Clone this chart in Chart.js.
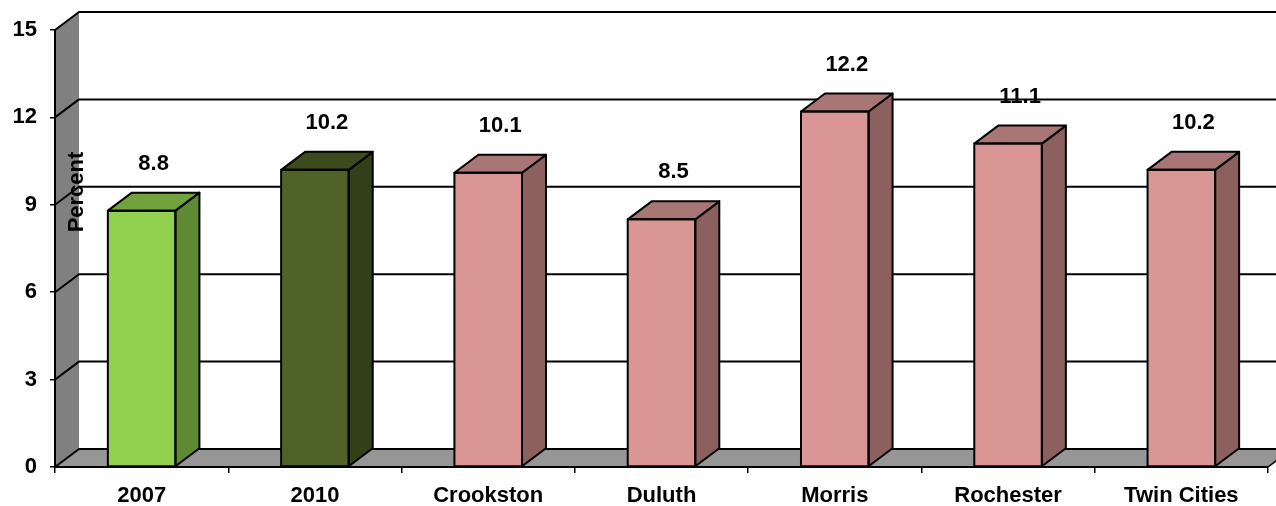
<!DOCTYPE html>
<html>
<head>
<meta charset="utf-8">
<script src="https://cdn.jsdelivr.net/npm/chart.js@4.4.1/dist/chart.umd.min.js"></script>
<style>
  html, body { margin: 0; padding: 0; background: #ffffff; }
  canvas { display: block; }
</style>
</head>
<body>
<canvas id="chart" width="1276" height="506"></canvas>
<script>
// Category names along the bottom axis
const categories = ['2007', '2010', 'Crookston', 'Duluth', 'Morris', 'Rochester', 'Twin Cities'];
// Percent value for each bar
const percentValues = [8.8, 10.2, 10.1, 8.5, 12.2, 11.1, 10.2];
// Value axis tick labels
const yTicks = [0, 3, 6, 9, 12, 15];

// Face colours of each 3D column: front, right side, top
const frontColors = ['#92D050', '#4F6228', '#D99694', '#D99694', '#D99694', '#D99694', '#D99694'];
const sideColors  = ['#5F8A34', '#323F19', '#8B605F', '#8B605F', '#8B605F', '#8B605F', '#8B605F'];
const topColors   = ['#70A23E', '#3C4B1E', '#A87675', '#A87675', '#A87675', '#A87675', '#A87675'];

// Depth of the 3D extrusion
const DX = 24, DY = -18;
const FONT = '"Liberation Sans", Arial, sans-serif';
const FONT_SIZE = 22;

function poly(ctx, pts) {
  ctx.beginPath();
  ctx.moveTo(pts[0][0], pts[0][1]);
  for (let i = 1; i < pts.length; i++) ctx.lineTo(pts[i][0], pts[i][1]);
  ctx.closePath();
}

// Walls, floor and gridlines of the 3D plot box
const wallsPlugin = {
  id: 'walls',
  beforeDraw(chart) {
    const ctx = chart.ctx;
    const { left, right, top, bottom } = chart.chartArea;
    const yScale = chart.scales.y;
    ctx.save();
    // left side wall
    ctx.fillStyle = '#808080';
    poly(ctx, [[left, top], [left + DX, top + DY], [left + DX, bottom + DY], [left, bottom]]);
    ctx.fill();
    // floor
    ctx.fillStyle = '#969696';
    poly(ctx, [[left, bottom], [left + DX, bottom + DY], [right + DX, bottom + DY], [right, bottom]]);
    ctx.fill();
    ctx.strokeStyle = '#000000';
    ctx.lineWidth = 1.5;
    ctx.beginPath();
    ctx.moveTo(right, bottom);
    ctx.lineTo(right + DX, bottom + DY);
    ctx.stroke();
    // gridlines running across side wall and back wall
    ctx.lineWidth = 2;
    ctx.lineJoin = 'round';
    yTicks.forEach(v => {
      const y = yScale.getPixelForValue(v);
      ctx.beginPath();
      ctx.moveTo(left, y);
      ctx.lineTo(left + DX, y + DY);
      ctx.lineTo(right + DX, y + DY);
      ctx.stroke();
    });
    ctx.restore();
  }
};

// Side and top faces of each column, outlines, value labels and axis title
const columnsPlugin = {
  id: 'columns3d',
  afterDatasetsDraw(chart) {
    const ctx = chart.ctx;
    const meta = chart.getDatasetMeta(0);
    ctx.save();
    ctx.lineWidth = 2;
    ctx.lineJoin = 'round';
    ctx.strokeStyle = '#000000';
    meta.data.forEach((bar, i) => {
      const { x, y, base, width } = bar.getProps(['x', 'y', 'base', 'width'], true);
      const l = x - width / 2, r = x + width / 2;
      // right side
      ctx.fillStyle = sideColors[i];
      poly(ctx, [[r, y], [r + DX, y + DY], [r + DX, base + DY], [r, base]]);
      ctx.fill(); ctx.stroke();
      // top
      ctx.fillStyle = topColors[i];
      poly(ctx, [[l, y], [l + DX, y + DY], [r + DX, y + DY], [r, y]]);
      ctx.fill(); ctx.stroke();
      // front outline
      ctx.strokeRect(l, y, width, base - y);
      // value label
      ctx.fillStyle = '#000000';
      ctx.font = 'bold ' + FONT_SIZE + 'px ' + FONT;
      ctx.textAlign = 'center';
      ctx.textBaseline = 'middle';
      ctx.fillText(percentValues[i].toFixed(1), x + DX / 2, y - 47);
    });
    // axis title
    ctx.translate(77, 192);
    ctx.rotate(-Math.PI / 2);
    ctx.font = 'bold ' + FONT_SIZE + 'px ' + FONT;
    ctx.textAlign = 'center';
    ctx.textBaseline = 'middle';
    ctx.fillStyle = '#000000';
    ctx.fillText('Percent', 0, 0);
    ctx.restore();
  }
};

new Chart(document.getElementById('chart'), {
  type: 'bar',
  data: {
    labels: categories,
    datasets: [{
      data: percentValues,
      backgroundColor: frontColors,
      borderWidth: 0,
      categoryPercentage: 1,
      barPercentage: 0.39
    }]
  },
  options: {
    responsive: false,
    animation: false,
    devicePixelRatio: 1,
    layout: { padding: { top: 30, right: 8, left: 0, bottom: 0 } },
    plugins: {
      legend: { display: false },
      tooltip: { enabled: false }
    },
    scales: {
      x: {
        grid: { display: true, drawOnChartArea: false, drawTicks: true, tickLength: 6, color: '#000000', lineWidth: 1.5, offset: true },
        border: { display: true, color: '#000000', width: 2 },
        ticks: { color: '#000000', font: { family: FONT, size: FONT_SIZE, weight: 'bold' }, padding: 10, maxRotation: 0 },
        afterFit(scale) { scale.height = 39; }
      },
      y: {
        min: 0,
        max: 15,
        afterBuildTicks(scale) { scale.ticks = yTicks.map(v => ({ value: v })); },
        grid: { display: true, drawOnChartArea: false, drawTicks: true, tickLength: 5, color: '#000000', lineWidth: 1.5 },
        border: { display: true, color: '#000000', width: 2 },
        ticks: { color: '#000000', font: { family: FONT, size: FONT_SIZE, weight: 'bold' }, padding: 13 },
        afterFit(scale) { scale.width = 55; }
      }
    }
  },
  plugins: [wallsPlugin, columnsPlugin]
});
</script>
</body>
</html>
